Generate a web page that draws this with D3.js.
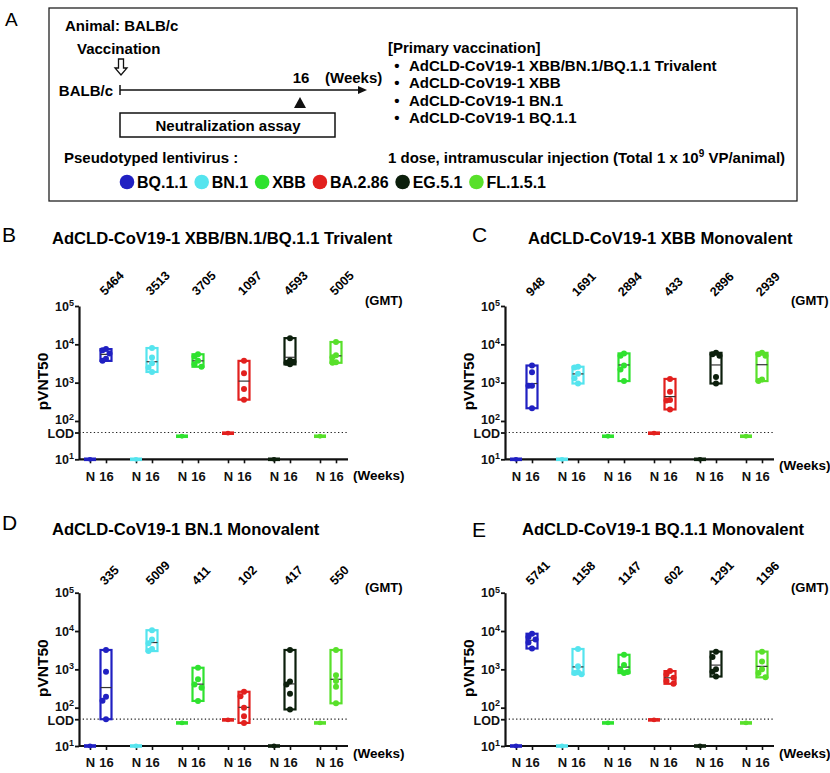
<!DOCTYPE html>
<html>
<head>
<meta charset="utf-8">
<script src="https://cdn.jsdelivr.net/npm/d3@7"></script>
<style>
  body { margin: 0; background: #fff; }
  svg { display: block; font-family: "Liberation Sans", Arial, Helvetica, sans-serif; }
</style>
</head>
<body>
<svg id="fig" width="830" height="773"></svg>
<script>
// ---- data ----
const variants = ["BQ.1.1", "BN.1", "XBB", "BA.2.86", "EG.5.1", "FL.1.5.1"];
const timepoints = ["N", "16"];
const yTicks = [10, 50, 100, 1000, 10000, 100000];
const lod = 50;
const naiveTiters = [10, 10, 40, 48, 10, 40];

const vaccineItems = [
  "AdCLD-CoV19-1 XBB/BN.1/BQ.1.1 Trivalent",
  "AdCLD-CoV19-1 XBB",
  "AdCLD-CoV19-1 BN.1",
  "AdCLD-CoV19-1 BQ.1.1"
];

const trivalentGmt = [5464, 3513, 3705, 1097, 4593, 5005];
const trivalentWk16 = [
  [7500, 7000, 5800, 4200, 3700],
  [8000, 4500, 3200, 2500, 1900],
  [5500, 4800, 3700, 3000, 2600],
  [3700, 1750, 680, 360],
  [14500, 3000, 3300, 3500, 3800],
  [11500, 5200, 4600, 3400, 3300]
];

const xbbGmt = [948, 1691, 2894, 433, 2896, 2939];
const xbbWk16 = [
  [2800, 1870, 830, 830, 215],
  [2600, 2500, 1700, 1300, 950],
  [5800, 5000, 2800, 2200, 1100],
  [1250, 580, 350, 340, 200],
  [6000, 5500, 5000, 1400, 950],
  [6000, 5500, 5000, 1200, 1100]
];

const bn1Gmt = [335, 5009, 411, 102, 417, 550];
const bn1Wk16 = [
  [3200, 870, 194, 152, 50],
  [10500, 6000, 4800, 3400, 3000],
  [1100, 550, 400, 330, 150],
  [260, 200, 100, 60, 40],
  [3200, 480, 400, 230, 90],
  [3200, 700, 500, 350, 130]
];

const bq11Gmt = [5741, 1158, 1147, 602, 1291, 1196];
const bq11Wk16 = [
  [8500, 7000, 6000, 5000, 3500],
  [3400, 1200, 850, 800, 750],
  [2400, 1300, 950, 850, 800],
  [900, 750, 600, 500, 420],
  [2900, 2100, 1000, 870, 650],
  [2900, 1600, 1000, 800, 620]
];

// colours, one per variant
const palette = ["#2020c2", "#55e4ee", "#2fe22f", "#e2201e", "#0c1f0c", "#58e02a"];

// ---- layout ----
const svg = d3.select("#fig");
const plotH = 153.3, plotW = 269;

const panels = [
  { letter: "B", title: "AdCLD-CoV19-1 XBB/BN.1/BQ.1.1 Trivalent", gmt: trivalentGmt, wk16: trivalentWk16,
    x0: 79, top: 306, titleX: 52, titleY: 244, letterX: 2, letterY: 242, weeksDy: 21, gmtDy: 10 },
  { letter: "C", title: "AdCLD-CoV19-1 XBB Monovalent", gmt: xbbGmt, wk16: xbbWk16,
    x0: 505, top: 306, titleX: 528, titleY: 244, letterX: 472, letterY: 242, weeksDy: 11, gmtDy: 9 },
  { letter: "D", title: "AdCLD-CoV19-1 BN.1 Monovalent", gmt: bn1Gmt, wk16: bn1Wk16,
    x0: 79, top: 592.7, titleX: 52, titleY: 535, letterX: 2, letterY: 530, weeksDy: 12, gmtDy: 7 },
  { letter: "E", title: "AdCLD-CoV19-1 BQ.1.1 Monovalent", gmt: bq11Gmt, wk16: bq11Wk16,
    x0: 505, top: 592.7, titleX: 522, titleY: 535, letterX: 472, letterY: 537, weeksDy: 12, gmtDy: 7 }
];

// ---- panel A (study design) ----
function drawDesign() {
  const g = svg.append("g").attr("font-weight", "bold").attr("font-size", 15);

  svg.append("text").attr("x", 5).attr("y", 26).attr("font-size", 19).text("A");

  g.append("rect").attr("x", 49).attr("y", 8).attr("width", 748).attr("height", 193)
    .attr("fill", "none").attr("stroke", "#222").attr("stroke-width", 1.3);

  g.append("text").attr("x", 65).attr("y", 31).text("Animal: BALB/c");
  g.append("text").attr("x", 77).attr("y", 54).text("Vaccination");

  const wk = d3.scaleLinear().domain([0, 16]).range([120, 300]);
  const ty = 90;

  // hollow arrow at vaccination
  const ax = wk(0) + 1;
  g.append("path")
    .attr("d", `M${ax - 2.5},59 h5 v9 h3.5 l-6,7 l-6,-7 h3.5 z`)
    .attr("fill", "#fff").attr("stroke", "#111").attr("stroke-width", 1.3);

  g.append("text").attr("x", 113).attr("y", ty).attr("text-anchor", "end")
    .attr("dominant-baseline", "central").text("BALB/c");
  g.append("line").attr("x1", wk(0)).attr("x2", wk(0)).attr("y1", ty - 5).attr("y2", ty + 5)
    .attr("stroke", "#111").attr("stroke-width", 1.5);
  g.append("line").attr("x1", wk(0)).attr("x2", 360).attr("y1", ty).attr("y2", ty)
    .attr("stroke", "#111").attr("stroke-width", 1.6);
  g.append("path").attr("d", `M358,${ty - 4} L367,${ty} L358,${ty + 4} z`).attr("fill", "#111");

  g.append("text").attr("x", wk(16) + 1).attr("y", 83).attr("text-anchor", "middle").text("16");
  g.append("text").attr("x", 325).attr("y", 83).text("(Weeks)");
  g.append("path").attr("d", `M${wk(16) - 6},108 L${wk(16) + 6},108 L${wk(16)},97 z`).attr("fill", "#111");

  g.append("rect").attr("x", wk(0)).attr("y", 113).attr("width", 215).attr("height", 24)
    .attr("fill", "none").attr("stroke", "#111").attr("stroke-width", 1.5);
  g.append("text").attr("x", 228).attr("y", 125).attr("text-anchor", "middle")
    .attr("dominant-baseline", "central").text("Neutralization assay");

  g.append("text").attr("x", 388).attr("y", 53).text("[Primary vaccination]");
  const items = g.append("g").selectAll("g").data(vaccineItems).join("g")
    .attr("transform", (d, i) => `translate(0,${71 + i * 17.3})`);
  items.append("text").attr("x", 397).attr("text-anchor", "middle").text("•");
  items.append("text").attr("x", 409).text(d => d);

  g.append("text").attr("x", 64).attr("y", 163).text("Pseudotyped lentivirus :");
  const dose = g.append("text").attr("x", 388).attr("y", 163);
  dose.append("tspan").text("1 dose, intramuscular injection (Total 1 x 10");
  dose.append("tspan").attr("dy", -6).attr("font-size", 10).text("9");
  dose.append("tspan").attr("dy", 6).text(" VP/animal)");

  // legend of pseudoviruses
  let lx = 127;
  const ly = 182;
  variants.forEach((v, i) => {
    g.append("circle").attr("cx", lx).attr("cy", ly).attr("r", 7.3).attr("fill", palette[i]);
    const t = g.append("text").attr("x", lx + 10).attr("y", ly).attr("font-size", 16)
      .attr("dominant-baseline", "central").text(v);
    lx += 10 + t.node().getComputedTextLength() + 14;
  });
}

// ---- panels B-E ----
function dodge(vals, y, r) {
  const cands = [0, -3.5, 3.5];
  const placed = [];
  return vals.map(v => {
    const py = y(v);
    let best = 0, bestD = -1;
    for (const c of cands) {
      const dmin = placed.length ? d3.min(placed, p => Math.hypot(p[0] - c, p[1] - py)) : Infinity;
      if (dmin >= 2 * r - 0.5) { best = c; bestD = Infinity; break; }
      if (dmin > bestD) { bestD = dmin; best = c; }
    }
    placed.push([best, py]);
    return { v, dx: best };
  });
}

function drawPanel(p) {
  const g = svg.append("g");
  const bottom = p.top + plotH;

  const y = d3.scaleLog().domain([10, 1e5]).range([bottom, p.top]);
  const xGroup = d3.scaleBand().domain(variants).range([p.x0 - 4, p.x0 + 272]);
  const xTime = d3.scalePoint().domain(timepoints).range([-8, 8]);
  const cx = (v, t) => xGroup(v) + xGroup.bandwidth() / 2 + xTime(t);
  const keys = d3.cross(variants, timepoints).map(d => d.join("|"));
  const xTick = d3.scaleOrdinal().domain(keys).range(keys.map(k => cx(...k.split("|"))));

  // panel letter and title
  svg.append("text").attr("x", p.letterX).attr("y", p.letterY).attr("font-size", 21).text(p.letter);
  svg.append("text").attr("x", p.titleX).attr("y", p.titleY).attr("font-size", 16.6)
    .attr("font-weight", "bold").text(p.title);

  // y axis
  const yAx = g.append("g").attr("transform", `translate(${p.x0},0)`)
    .call(d3.axisLeft(y).tickValues(yTicks).tickSize(4).tickSizeOuter(0).tickPadding(1));
  yAx.attr("font-family", null).attr("font-size", 12.5).attr("font-weight", "bold");
  yAx.select(".domain").attr("stroke-width", 2.2).attr("stroke", "#111");
  yAx.selectAll(".tick line").attr("stroke-width", 1.8).attr("stroke", "#111");
  yAx.selectAll(".tick text").attr("fill", "#111").each(function(d) {
    const t = d3.select(this).text(null);
    // nudge the two close labels (10^2 and LOD) apart a little
    if (d === lod) { t.attr("y", 1.3).text("LOD"); return; }
    if (d === 100) t.attr("y", -1.3);
    t.append("tspan").text("10");
    t.append("tspan").attr("dy", "-0.5em").attr("font-size", 9).text(Math.round(Math.log10(d)));
  });

  // x axis
  g.append("line").attr("x1", p.x0).attr("x2", p.x0 + plotW).attr("y1", bottom).attr("y2", bottom)
    .attr("stroke", "#111").attr("stroke-width", 2.2);
  const xAx = g.append("g").attr("transform", `translate(0,${bottom})`)
    .call(d3.axisBottom(xTick).tickSize(4).tickPadding(8).tickFormat(k => k.split("|")[1]));
  xAx.select(".domain").remove();
  xAx.attr("font-family", null).attr("font-size", 13).attr("font-weight", "bold");
  xAx.selectAll(".tick line").attr("stroke-width", 1.6).attr("stroke", "#111");
  xAx.selectAll(".tick text").attr("fill", "#111");

  // LOD dotted line
  g.append("line").attr("x1", p.x0).attr("x2", p.x0 + plotW).attr("y1", y(lod)).attr("y2", y(lod))
    .attr("stroke", "#222").attr("stroke-width", 1.2).attr("stroke-dasharray", "1.3,2.4");

  // axis titles
  g.append("text")
    .attr("transform", `translate(${p.x0 - 36.5},${p.top + 75.5}) rotate(-90)`)
    .attr("text-anchor", "middle").attr("dominant-baseline", "central")
    .attr("font-size", 15.5).attr("font-weight", "bold").text("pVNT50");
  g.append("text").attr("x", p.x0 + 286).attr("y", p.top - 1)
    .attr("font-size", 13).attr("font-weight", "bold").text("(GMT)");
  g.append("text").attr("x", p.x0 + 274).attr("y", bottom + p.weeksDy)
    .attr("font-size", 13.5).attr("font-weight", "bold").text("(Weeks)");

  // GMT labels
  g.append("g").selectAll("text").data(variants).join("text")
    .attr("transform", (v, i) => `translate(${cx(v, "16") - 1},${p.top - p.gmtDy}) rotate(-45)`)
    .attr("font-size", 12.5).attr("font-weight", "bold")
    .text((v, i) => p.gmt[i]);

  const bw = 11, r = 3;

  // naive (N) groups: all animals at the same titre
  const naive = g.append("g").selectAll("g").data(variants).join("g");
  naive.append("rect")
    .attr("x", v => cx(v, "N") - 6).attr("width", 12)
    .attr("y", (v, i) => y(naiveTiters[i]) - 1.8).attr("height", 3.6)
    .attr("fill", (v, i) => palette[i]);
  naive.append("circle")
    .attr("cx", v => cx(v, "N")).attr("cy", (v, i) => y(naiveTiters[i])).attr("r", 2.4)
    .attr("fill", (v, i) => palette[i]);

  // week 16 floating bars (min to max), line at GMT, points
  const grp = g.append("g").selectAll("g").data(variants).join("g");
  grp.append("rect")
    .attr("x", v => cx(v, "16") - bw / 2).attr("width", bw)
    .attr("y", (v, i) => y(d3.max(p.wk16[i])))
    .attr("height", (v, i) => y(d3.min(p.wk16[i])) - y(d3.max(p.wk16[i])))
    .attr("fill", "#fff").attr("stroke", (v, i) => palette[i]).attr("stroke-width", 2.2);
  grp.append("line")
    .attr("x1", v => cx(v, "16") - bw / 2).attr("x2", v => cx(v, "16") + bw / 2)
    .attr("y1", (v, i) => y(p.gmt[i])).attr("y2", (v, i) => y(p.gmt[i]))
    .attr("stroke", "#333").attr("stroke-width", 1.2);
  grp.each(function(v, i) {
    d3.select(this).selectAll("circle").data(dodge(p.wk16[i], y, r)).join("circle")
      .attr("cx", d => cx(v, "16") + d.dx).attr("cy", d => y(d.v)).attr("r", r)
      .attr("fill", palette[i]);
  });
}

drawDesign();
panels.forEach(drawPanel);
</script>
</body>
</html>
